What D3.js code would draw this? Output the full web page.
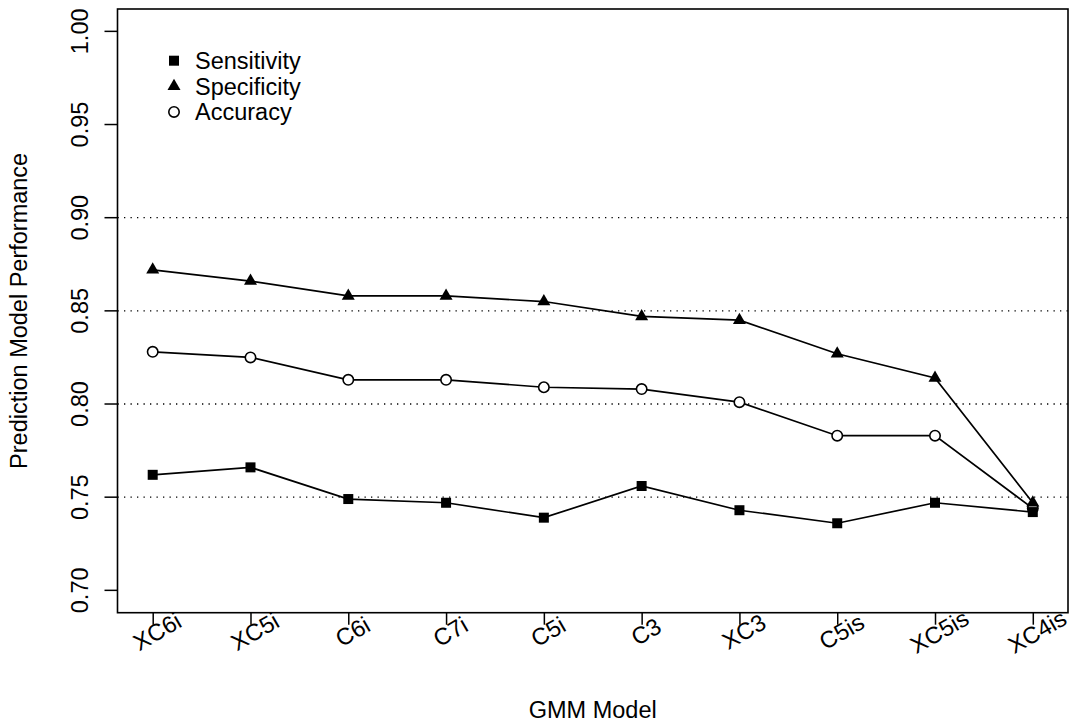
<!DOCTYPE html>
<html><head><meta charset="utf-8">
<script src="https://cdn.jsdelivr.net/npm/d3@7"></script>
<style>body{margin:0;background:#fff}text{font-family:"Liberation Sans",Arial,Helvetica,sans-serif;fill:#000}</style>
</head><body><svg id="c" width="1074" height="728"></svg>
<script>
const models = ["XC6i","XC5i","C6i","C7i","C5i","C3","XC3","C5is","XC5is","XC4is"];
const sensitivity = [0.762,0.766,0.749,0.747,0.739,0.756,0.743,0.736,0.747,0.742];
const specificity = [0.872,0.866,0.858,0.858,0.855,0.847,0.845,0.827,0.814,0.747];
const accuracy    = [0.828,0.825,0.813,0.813,0.809,0.808,0.801,0.783,0.783,0.744];
const yTicks = [0.70,0.75,0.80,0.85,0.90,0.95,1.00];
const gridVals = [0.75,0.80,0.85,0.90];

const FS = 23.5;
const svg = d3.select("#c");
const L=117.5, R=1068, T=9, B=612.7;
const x = d3.scaleLinear().domain([1-0.36,10+0.36]).range([L,R]);
const y = d3.scaleLinear().domain([0.70-0.012,1.00+0.012]).range([B,T]);

// grid
svg.selectAll(".grid").data(gridVals).enter().append("line")
  .attr("x1",L).attr("x2",R).attr("y1",d=>y(d)).attr("y2",d=>y(d))
  .attr("stroke","#000").attr("stroke-width",1.3).attr("stroke-dasharray","1.3,5.2");

// y axis
const ya = svg.append("g").attr("transform",`translate(${L},0)`)
  .call(d3.axisLeft(y).tickValues(yTicks).tickSize(13).tickFormat(d3.format(".2f")));
ya.select(".domain").remove();
ya.selectAll("line").attr("stroke-width",1.5);
ya.selectAll("text").attr("font-size",FS).attr("transform",`rotate(-90)`)
  .attr("x",d=>-y(d)).attr("y",-30).attr("dy",0).attr("text-anchor","middle")
  .attr("font-family","Liberation Sans, Arial, sans-serif");
ya.selectAll(".tick").attr("transform",null);
ya.selectAll(".tick line").attr("y1",d=>y(d)).attr("y2",d=>y(d)).attr("x2",-13);

// x axis
const idx = d3.range(1,11);
const xa = svg.append("g").attr("transform",`translate(0,${B})`)
  .call(d3.axisBottom(x).tickValues(idx).tickSize(12).tickFormat(d=>models[d-1]));
xa.select(".domain").remove();
xa.selectAll("line").attr("stroke-width",1.5);
xa.selectAll("text").attr("font-size",FS).attr("font-family","Liberation Sans, Arial, sans-serif")
  .attr("text-anchor","middle").attr("dy",0).attr("y",0)
  .attr("transform","translate(8,26) rotate(-30)");

// box
svg.append("rect").attr("x",L).attr("y",T).attr("width",R-L).attr("height",B-T)
  .attr("fill","none").attr("stroke","#000").attr("stroke-width",1.6);

const line = d3.line().x((d,i)=>x(i+1)).y(d=>y(d));
[sensitivity,specificity,accuracy].forEach(s=>{
  svg.append("path").attr("d",line(s)).attr("fill","none").attr("stroke","#000").attr("stroke-width",1.7);
});

function sq(g,cx,cy){g.append("rect").attr("x",cx-5).attr("y",cy-5).attr("width",10).attr("height",10).attr("fill","#000");}
function tri(g,cx,cy){const s=13,h=s*Math.sqrt(3)/2;g.append("path").attr("d",`M${cx},${cy-h*2/3}L${cx+s/2},${cy+h/3}L${cx-s/2},${cy+h/3}Z`).attr("fill","#000");}
function circ(g,cx,cy){g.append("circle").attr("cx",cx).attr("cy",cy).attr("r",5.2).attr("fill","#fff").attr("stroke","#000").attr("stroke-width",1.6);}

accuracy.forEach((v,i)=>circ(svg,x(i+1),y(v)));
sensitivity.forEach((v,i)=>sq(svg,x(i+1),y(v)));
specificity.forEach((v,i)=>tri(svg,x(i+1),y(v)));

// legend
const legendNames = ["Sensitivity","Specificity","Accuracy"];
const legendFns = [sq,tri,circ];
legendNames.forEach((n,i)=>{
  const cy = 60.7 + i*25.6;
  legendFns[i](svg,174,cy);
  svg.append("text").attr("x",195).attr("y",cy+8.2).attr("font-size",FS).text(n);
});

// titles
svg.append("text").attr("x",(L+R)/2).attr("y",718).attr("text-anchor","middle").attr("font-size",FS).text("GMM Model");
svg.append("text").attr("transform",`translate(27,${(T+B)/2}) rotate(-90)`).attr("text-anchor","middle").attr("font-size",FS).text("Prediction Model Performance");
</script></body></html>
